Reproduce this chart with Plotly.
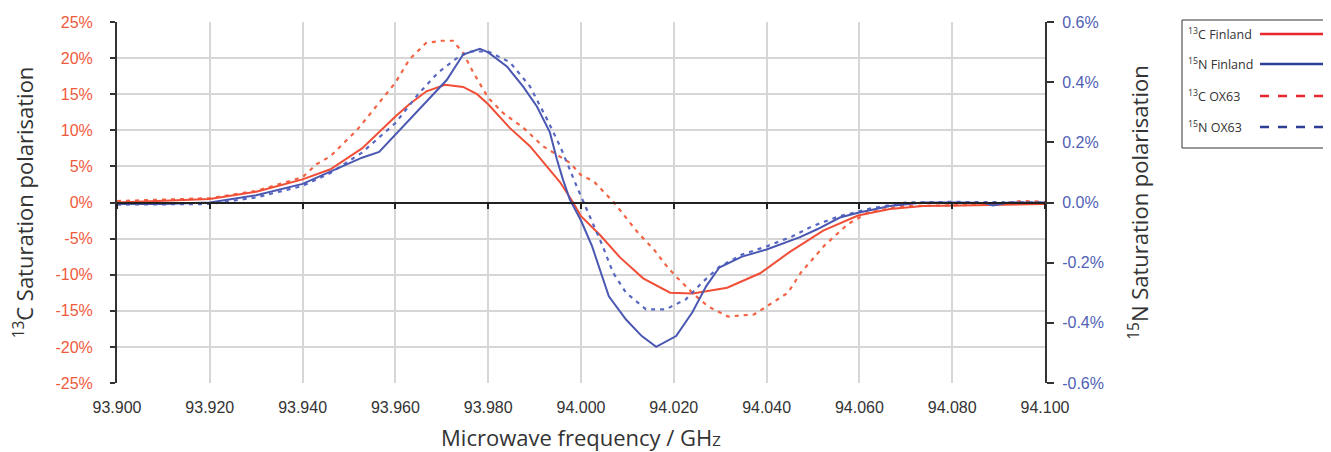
import plotly.graph_objects as go

# ---- data (frequency in GHz, polarisation in %) ----
c13_fin_freq = [93.900, 93.910, 93.920, 93.930, 93.940, 93.946, 93.9528, 93.960, 93.963, 93.9667,
                93.9707, 93.9746, 93.9776, 93.980, 93.9847, 93.989, 93.9927, 93.9955, 93.9983, 94.000,
                94.0041, 94.0084, 94.0134, 94.0192, 94.0241, 94.0315, 94.0386, 94.0451, 94.0522, 94.0597,
                94.0666, 94.0737, 94.0817, 94.0903, 94.100]
c13_fin_val = [0.0, 0.2, 0.5, 1.5, 3.2, 4.6, 7.5, 11.9, 13.6, 15.4,
               16.3, 16.0, 15.0, 13.6, 10.3, 7.8, 5.0, 2.8, 0.0, -1.9,
               -4.5, -7.6, -10.5, -12.5, -12.6, -11.8, -9.8, -6.8, -3.9, -1.8,
               -0.9, -0.5, -0.4, -0.3, -0.2]

c13_ox_freq = [93.900, 93.910, 93.920, 93.930, 93.940, 93.943, 93.946, 93.9518, 93.9567, 93.960,
               93.963, 93.9666, 93.970, 93.9724, 93.9746, 93.9767, 93.980, 93.9832, 93.9875, 93.9918,
               93.9976, 94.000, 94.0028, 94.0071, 94.0123, 94.0157, 94.0187, 94.0204, 94.0243, 94.0274,
               94.0317, 94.0373, 94.040, 94.0446, 94.0474, 94.0524, 94.0575, 94.0618, 94.0689, 94.080,
               94.090, 94.095, 94.100]
c13_ox_val = [0.2, 0.4, 0.6, 1.6, 3.5, 5.3, 6.4, 10.1, 14.0, 16.6,
              19.8, 22.1, 22.4, 22.4, 20.7, 18.1, 14.5, 12.4, 10.4, 7.8,
              5.5, 3.8, 2.9, 0.0, -4.2, -6.5, -9.0, -10.2, -12.7, -14.4,
              -15.8, -15.5, -14.4, -12.5, -9.7, -6.0, -3.0, -1.4, -0.5, -0.4,
              -0.2, 0.2, 0.1]

n15_fin_freq = [93.900, 93.910, 93.920, 93.930, 93.940, 93.946, 93.9528, 93.9565, 93.960, 93.9638,
                93.9675, 93.9711, 93.9746, 93.9782, 93.980, 93.9841, 93.9875, 93.9905, 93.9933, 93.9948,
                93.9961, 93.9976, 94.000, 94.0024, 94.0060, 94.0097, 94.0131, 94.0162, 94.0205, 94.0240,
                94.0270, 94.0298, 94.0347, 94.040, 94.0472, 94.0509, 94.0558, 94.0597, 94.0666, 94.0737,
                94.082, 94.087, 94.0888, 94.0922, 94.100]
n15_fin_val = [-0.005, -0.005, 0.0, 0.024, 0.062, 0.103, 0.149, 0.168, 0.226, 0.286,
               0.348, 0.408, 0.492, 0.511, 0.499, 0.451, 0.386, 0.319, 0.233, 0.144,
               0.077, 0.010, -0.060, -0.146, -0.312, -0.389, -0.444, -0.480, -0.444, -0.365,
               -0.278, -0.216, -0.180, -0.156, -0.115, -0.089, -0.050, -0.034, -0.012, 0.0,
               0.0, -0.002, -0.010, 0.0, 0.0]

n15_ox_freq = [93.900, 93.910, 93.920, 93.930, 93.940, 93.946, 93.9528, 93.960, 93.9649, 93.9692,
               93.9728, 93.9757, 93.980, 93.9847, 93.989, 93.9927, 93.9955, 93.9991, 94.0019, 94.0047,
               94.0069, 94.0097, 94.0140, 94.0183, 94.0226, 94.0261, 94.0298, 94.0347, 94.040, 94.0455,
               94.0498, 94.0556, 94.0627, 94.070, 94.080, 94.090, 94.100]
n15_ox_val = [-0.007, -0.005, -0.005, 0.017, 0.055, 0.098, 0.166, 0.264, 0.360, 0.432,
              0.475, 0.502, 0.502, 0.466, 0.386, 0.276, 0.187, 0.053, -0.046, -0.146,
              -0.233, -0.300, -0.355, -0.355, -0.322, -0.266, -0.214, -0.173, -0.146, -0.113,
              -0.079, -0.046, -0.019, 0.0, 0.002, 0.0, 0.0]

x_ticks = [93.90, 93.92, 93.94, 93.96, 93.98, 94.00, 94.02, 94.04, 94.06, 94.08, 94.10]
x_ticktext = ["93.900", "93.920", "93.940", "93.960", "93.980", "94.000",
              "94.020", "94.040", "94.060", "94.080", "94.100"]
left_ticks = [-25, -20, -15, -10, -5, 0, 5, 10, 15, 20, 25]
left_ticktext = [f"{v}%" for v in left_ticks]
right_ticks = [-0.6, -0.4, -0.2, 0.0, 0.2, 0.4, 0.6]
right_ticktext = ["-0.6%", "-0.4%", "-0.2%", "0.0%", "0.2%", "0.4%", "0.6%"]

legend_names = ["<sup>13</sup>C Finland", "<sup>15</sup>N Finland",
                "<sup>13</sup>C OX63", "<sup>15</sup>N OX63"]

RED = "#F04E37"
RED_D = "#F26445"
BLUE = "#4A58B2"
BLUE_D = "#5868C2"
DASH = "4px,5px"

fig = go.Figure()
fig.add_trace(go.Scatter(x=c13_ox_freq, y=c13_ox_val, mode="lines", name=legend_names[2],
                         line=dict(color=RED_D, width=2.2, dash=DASH), yaxis="y"))
fig.add_trace(go.Scatter(x=n15_ox_freq, y=n15_ox_val, mode="lines", name=legend_names[3],
                         line=dict(color=BLUE_D, width=2.2, dash=DASH), yaxis="y2"))
fig.add_trace(go.Scatter(x=c13_fin_freq, y=c13_fin_val, mode="lines", name=legend_names[0],
                         line=dict(color=RED, width=2), yaxis="y"))
fig.add_trace(go.Scatter(x=n15_fin_freq, y=n15_fin_val, mode="lines", name=legend_names[1],
                         line=dict(color=BLUE, width=2), yaxis="y2"))
# invisible trace to carry the zero-line x axis
fig.add_trace(go.Scatter(x=[x_ticks[0], x_ticks[-1]], y=[0, 0], mode="lines",
                         line=dict(width=0), xaxis="x2", yaxis="y", hoverinfo="skip",
                         showlegend=False))

tick_font = dict(family="Liberation Sans, Arial, sans-serif", size=16)
title_font = dict(family="Open Sans, sans-serif", size=22, color="#333333")

# page has an 8px body margin: figure origin is at page (8, 8)
FIG_W, FIG_H = 1323, 444
fig.update_layout(
    width=FIG_W, height=FIG_H,
    margin=dict(l=109, r=286, t=14, b=69),
    paper_bgcolor="white", plot_bgcolor="white",
    showlegend=False,
    xaxis=dict(
        range=[93.9, 94.1], tickvals=x_ticks, ticktext=x_ticktext,
        showgrid=True, gridcolor="#D6D6D6", gridwidth=2,
        zeroline=False, showline=False, automargin=False,
        ticks="outside", ticklen=10, tickcolor="rgba(0,0,0,0)",
        tickfont=dict(color="#333333", **tick_font),
        title=dict(text="Microwave frequency / GH<span style='font-size:15px'>Z</span>",
                   font=title_font, standoff=16),
    ),
    xaxis2=dict(
        range=[93.9, 94.1], tickvals=x_ticks, overlaying="x", anchor="free", position=0.5,
        showgrid=False, zeroline=False, showline=True, linecolor="#222222", linewidth=2,
        ticks="outside", ticklen=5, tickcolor="#222222", tickwidth=2, showticklabels=False,
        automargin=False,
    ),
    yaxis=dict(
        range=[-25, 25], tickvals=left_ticks, ticktext=left_ticktext,
        showgrid=True, gridcolor="#D6D6D6", gridwidth=2, zeroline=False,
        showline=True, linecolor="#333333", linewidth=2, automargin=False,
        ticks="outside", ticklen=5, tickcolor="#333333", tickwidth=2,
        ticklabelstandoff=14,
        tickfont=dict(color="#F05A3C", **tick_font),
        title=dict(text="<sup>13</sup>C Saturation polarisation", font=title_font, standoff=16),
    ),
    yaxis2=dict(
        range=[-0.6, 0.6], tickvals=right_ticks, ticktext=right_ticktext,
        overlaying="y", side="right", anchor="x",
        showgrid=False, zeroline=False, automargin=False,
        showline=True, linecolor="#333333", linewidth=2,
        ticks="outside", ticklen=7, tickcolor="#333333", tickwidth=2,
        ticklabelstandoff=5,
        tickfont=dict(color="#4F5FB5", **tick_font),
        title=dict(text="<sup>15</sup>N Saturation polarisation", font=title_font, standoff=30),
    ),
)

# custom legend box (text on the left, line sample on the right); page pixel coords
PLOT_L, PLOT_B, PLOT_W, PLOT_H = 117, 383, 928, 361

def px_to_paper_x(px):
    return (px - PLOT_L) / PLOT_W

def px_to_paper_y(py):
    return (PLOT_B - py) / PLOT_H

leg_colors = ["#E8262C", "#2E3D96", "#E8262C", "#2E3D96"]
leg_dash = ["solid", "solid", "dash", "dash"]
leg_y_px = [34, 64, 96, 127]

fig.add_shape(type="rect", xref="paper", yref="paper",
              x0=px_to_paper_x(1182), x1=px_to_paper_x(1329),
              y0=px_to_paper_y(148), y1=px_to_paper_y(20),
              line=dict(color="#333333", width=1), fillcolor="white")
for name, col, dsh, ypx in zip(legend_names, leg_colors, leg_dash, leg_y_px):
    fig.add_annotation(xref="paper", yref="paper", x=px_to_paper_x(1186), y=px_to_paper_y(ypx),
                       text=name, showarrow=False, xanchor="left", yanchor="middle",
                       font=dict(family="Open Sans, sans-serif", size=12.5, color="#333333"))
    fig.add_shape(type="line", xref="paper", yref="paper",
                  x0=px_to_paper_x(1260), x1=px_to_paper_x(1327),
                  y0=px_to_paper_y(ypx), y1=px_to_paper_y(ypx),
                  line=dict(color=col, width=2.5, dash=dsh))

fig.write_html("out.html")
